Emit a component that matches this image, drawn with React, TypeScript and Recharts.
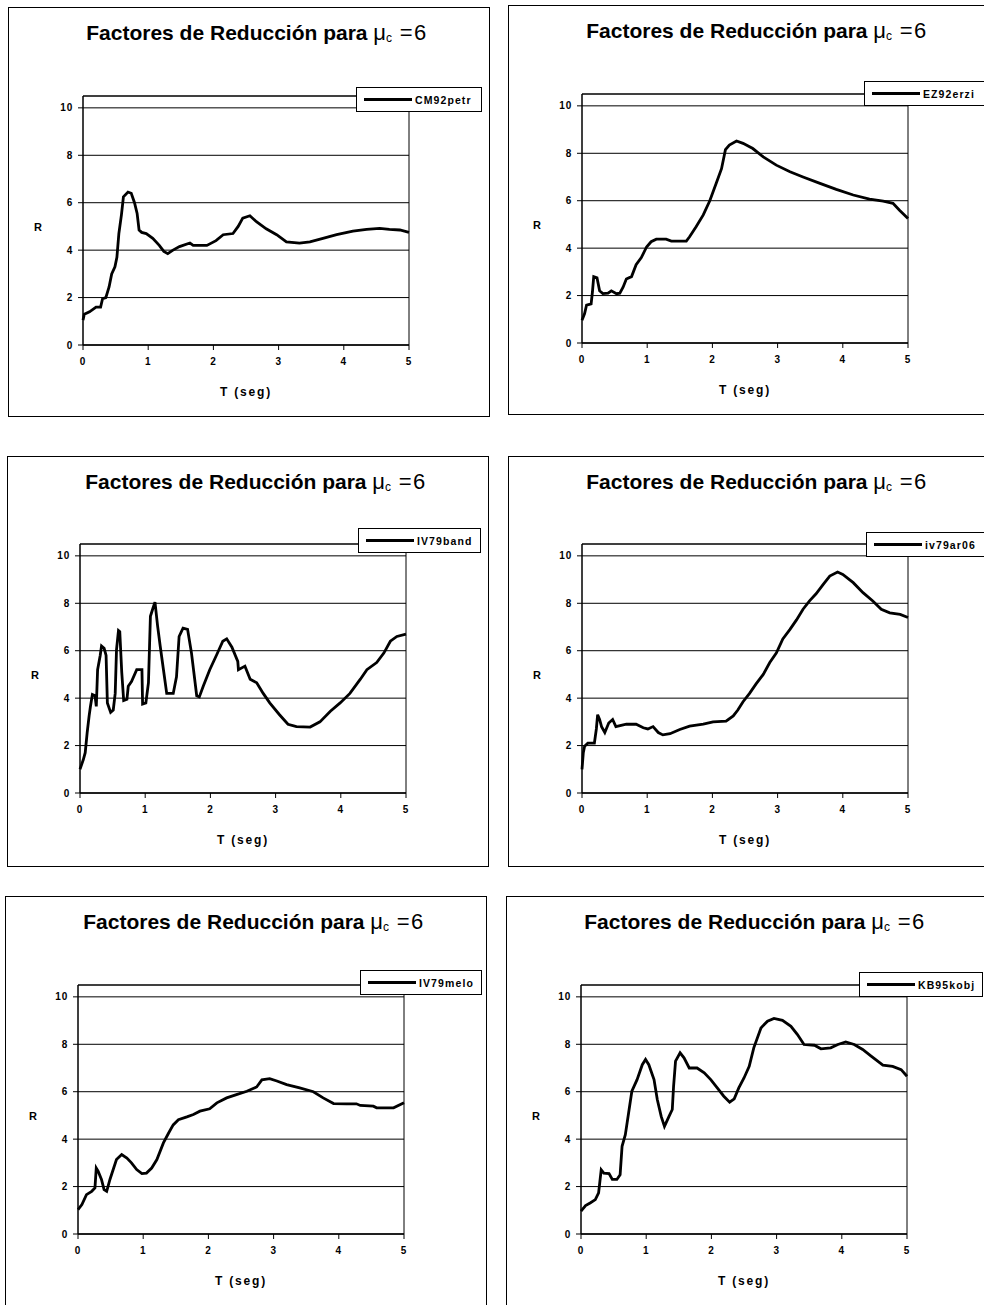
import {
  LineChart,
  Line,
  XAxis,
  YAxis,
  CartesianGrid,
  ReferenceArea,
  Legend,
  Label,
} from "recharts";

const xTicks = [0, 1, 2, 3, 4, 5];
const yTicks = [0, 2, 4, 6, 8, 10];

// CM92petr
const petrT = [0, 0.02, 0.1, 0.2, 0.27, 0.3, 0.35, 0.4, 0.44, 0.49, 0.52, 0.55, 0.59, 0.62, 0.69, 0.74, 0.79, 0.83, 0.86, 0.9, 0.97, 1.07, 1.17, 1.24, 1.3, 1.38, 1.48, 1.64, 1.69, 1.9, 2.04, 2.15, 2.3, 2.38, 2.45, 2.56, 2.66, 2.81, 2.97, 3.12, 3.32, 3.48, 3.68, 3.89, 4.14, 4.35, 4.55, 4.7, 4.86, 5.0];
const petrR = [1.05, 1.3, 1.4, 1.6, 1.6, 1.95, 2.0, 2.45, 3.0, 3.3, 3.7, 4.7, 5.5, 6.25, 6.45, 6.4, 6.0, 5.55, 4.85, 4.75, 4.7, 4.5, 4.2, 3.95, 3.85, 4.0, 4.15, 4.3, 4.2, 4.2, 4.4, 4.65, 4.7, 5.0, 5.35, 5.45, 5.2, 4.9, 4.65, 4.35, 4.3, 4.35, 4.5, 4.65, 4.8, 4.88, 4.92, 4.88, 4.85, 4.75];

// EZ92erzi
const erziT = [0, 0.04, 0.07, 0.14, 0.16, 0.18, 0.23, 0.27, 0.32, 0.4, 0.45, 0.53, 0.58, 0.63, 0.68, 0.76, 0.83, 0.91, 0.99, 1.06, 1.14, 1.29, 1.37, 1.6, 1.65, 1.75, 1.86, 1.96, 2.06, 2.14, 2.2, 2.26, 2.37, 2.47, 2.62, 2.78, 2.98, 3.19, 3.39, 3.65, 3.9, 4.16, 4.41, 4.62, 4.77, 4.87, 5.0];
const erziR = [0.96, 1.24, 1.6, 1.65, 2.15, 2.8, 2.75, 2.2, 2.08, 2.1, 2.2, 2.08, 2.1, 2.35, 2.7, 2.8, 3.3, 3.6, 4.05, 4.27, 4.38, 4.38, 4.3, 4.3, 4.48, 4.9, 5.4, 6.0, 6.75, 7.35, 8.15, 8.35, 8.52, 8.42, 8.2, 7.85, 7.5, 7.22, 7.0, 6.73, 6.48, 6.24, 6.07, 5.98, 5.89, 5.6, 5.25];

// IV79band
const bandT = [0, 0.05, 0.08, 0.11, 0.14, 0.16, 0.19, 0.23, 0.25, 0.27, 0.31, 0.33, 0.37, 0.4, 0.42, 0.47, 0.51, 0.54, 0.56, 0.59, 0.61, 0.64, 0.67, 0.72, 0.74, 0.79, 0.87, 0.95, 0.96, 1.01, 1.05, 1.08, 1.12, 1.15, 1.19, 1.23, 1.28, 1.33, 1.43, 1.48, 1.52, 1.58, 1.65, 1.71, 1.79, 1.83, 1.89, 1.99, 2.1, 2.19, 2.25, 2.33, 2.42, 2.43, 2.53, 2.61, 2.71, 2.81, 2.91, 3.06, 3.19, 3.32, 3.53, 3.68, 3.84, 3.99, 4.14, 4.3, 4.4, 4.55, 4.66, 4.76, 4.86, 5.0];
const bandR = [1.0, 1.4, 1.7, 2.55, 3.25, 3.65, 4.15, 4.1, 3.65, 5.2, 5.8, 6.2, 6.1, 5.8, 3.8, 3.4, 3.5, 4.2, 6.05, 6.85, 6.8, 5.1, 3.9, 3.95, 4.5, 4.7, 5.2, 5.2, 3.75, 3.8, 4.65, 7.45, 7.8, 8.05, 7.05, 6.2, 5.2, 4.2, 4.2, 4.9, 6.6, 6.95, 6.9, 5.9, 4.1, 4.05, 4.5, 5.2, 5.85, 6.4, 6.5, 6.15, 5.55, 5.2, 5.35, 4.8, 4.65, 4.2, 3.8, 3.3, 2.9, 2.8, 2.78, 3.0, 3.45, 3.8, 4.2, 4.8, 5.2, 5.5, 5.9, 6.4, 6.6, 6.7];

// iv79ar06
const ar06T = [0, 0.02, 0.04, 0.09, 0.19, 0.22, 0.24, 0.27, 0.3, 0.35, 0.41, 0.47, 0.52, 0.6, 0.68, 0.83, 0.94, 1.01, 1.09, 1.17, 1.24, 1.35, 1.5, 1.65, 1.86, 2.01, 2.21, 2.32, 2.39, 2.47, 2.57, 2.67, 2.78, 2.88, 2.98, 3.08, 3.19, 3.29, 3.39, 3.49, 3.59, 3.7, 3.8, 3.92, 4.0, 4.16, 4.31, 4.46, 4.59, 4.72, 4.88, 5.0];
const ar06R = [1.0, 1.7, 1.97, 2.1, 2.1, 2.7, 3.3, 3.1, 2.8, 2.55, 2.95, 3.1, 2.8, 2.85, 2.9, 2.9, 2.75, 2.7, 2.8, 2.55, 2.45, 2.5, 2.68, 2.82, 2.9, 3.0, 3.03, 3.25, 3.5, 3.85, 4.2, 4.6, 5.0, 5.5, 5.9, 6.5, 6.9, 7.3, 7.75, 8.1, 8.4, 8.8, 9.15, 9.32, 9.22, 8.87, 8.45, 8.1, 7.75, 7.6, 7.53, 7.4];

// IV79melo
const meloT = [0, 0.06, 0.13, 0.21, 0.26, 0.28, 0.31, 0.36, 0.4, 0.44, 0.49, 0.54, 0.59, 0.67, 0.75, 0.82, 0.9, 0.98, 1.05, 1.13, 1.21, 1.31, 1.39, 1.46, 1.54, 1.67, 1.77, 1.87, 2.02, 2.13, 2.28, 2.43, 2.59, 2.74, 2.82, 2.94, 3.05, 3.2, 3.4, 3.61, 3.76, 3.92, 4.12, 4.27, 4.33, 4.53, 4.58, 4.84, 5.0];
const meloR = [1.03, 1.24, 1.66, 1.8, 1.94, 2.78, 2.64, 2.3, 1.87, 1.8, 2.3, 2.72, 3.14, 3.35, 3.2, 3.0, 2.72, 2.55, 2.57, 2.78, 3.14, 3.84, 4.26, 4.6, 4.82, 4.94, 5.04, 5.18, 5.28, 5.53, 5.74, 5.88, 6.02, 6.2, 6.5, 6.55, 6.45, 6.3, 6.16, 6.0, 5.74, 5.5, 5.49, 5.49, 5.42, 5.39, 5.32, 5.32, 5.53];

// KB95kobj
const kobjT = [0, 0.07, 0.14, 0.22, 0.27, 0.31, 0.35, 0.43, 0.48, 0.55, 0.6, 0.63, 0.68, 0.73, 0.78, 0.86, 0.94, 0.99, 1.04, 1.12, 1.17, 1.23, 1.28, 1.35, 1.4, 1.42, 1.45, 1.52, 1.58, 1.66, 1.78, 1.89, 1.99, 2.09, 2.19, 2.28, 2.35, 2.42, 2.5, 2.58, 2.65, 2.76, 2.86, 2.96, 3.09, 3.22, 3.32, 3.42, 3.58, 3.68, 3.83, 3.94, 4.06, 4.19, 4.32, 4.45, 4.63, 4.78, 4.91, 5.0];
const kobjR = [0.96, 1.2, 1.31, 1.45, 1.73, 2.71, 2.57, 2.55, 2.3, 2.3, 2.5, 3.7, 4.19, 5.1, 6.02, 6.51, 7.14, 7.36, 7.14, 6.51, 5.67, 4.96, 4.54, 4.96, 5.25, 6.23, 7.29, 7.64, 7.43, 7.0, 7.0, 6.8, 6.51, 6.16, 5.81, 5.56, 5.7, 6.16, 6.58, 7.07, 7.85, 8.69, 8.97, 9.09, 9.01, 8.76, 8.41, 7.99, 7.96, 7.81, 7.85, 7.99, 8.1, 7.99, 7.78, 7.5, 7.12, 7.07, 6.93, 6.65];

const FONT = '"Liberation Sans", Arial, sans-serif';
const PLOT_W = 326;
const PLOT_H = 249;
const Y_W = 40;
const X_H = 40;
const PANEL_W = 482;

// panel box, axis origin (x0, y0) and legend box, in page px
const panels = [
  { name: "CM92petr", t: petrT, r: petrR, left: 8, top: 7, h: 410, x0: 83, y0: 345, lx: 356, ly: 87, lw: 126 },
  { name: "EZ92erzi", t: erziT, r: erziR, left: 508, top: 5, h: 410, x0: 582, y0: 343, lx: 864, ly: 81, lw: 126 },
  { name: "IV79band", t: bandT, r: bandR, left: 7, top: 456, h: 411, x0: 80, y0: 793, lx: 358, ly: 528, lw: 123 },
  { name: "iv79ar06", t: ar06T, r: ar06R, left: 508, top: 456, h: 411, x0: 582, y0: 793, lx: 866, ly: 532, lw: 126 },
  { name: "IV79melo", t: meloT, r: meloR, left: 5, top: 896, h: 420, x0: 78, y0: 1234, lx: 360, ly: 970, lw: 122 },
  { name: "KB95kobj", t: kobjT, r: kobjR, left: 506, top: 896, h: 420, x0: 581, y0: 1234, lx: 859, ly: 972, lw: 124 },
];

function Chart({ p }: { p: (typeof panels)[number] }) {
  const data = p.t.map((t, i) => ({ t, r: p.r[i] }));
  const ml = p.x0 - p.left - Y_W;
  const mt = p.y0 - PLOT_H - p.top;
  const mr = PANEL_W - (p.x0 - p.left) - PLOT_W;
  const mb = p.h - (p.y0 - p.top) - X_H;
  const tickStyle = { fontSize: 10, fontWeight: "bold", fill: "#000", fontFamily: FONT, letterSpacing: 0.8 };

  return (
    <div style={{ position: "absolute", left: p.left, top: p.top, width: PANEL_W, height: p.h, background: "#fff" }}>
      <div style={{ position: "absolute", inset: 0, border: "1px solid #000" }} />
      <div
        style={{
          position: "absolute",
          top: 14,
          left: 0,
          width: 498,
          textAlign: "center",
          lineHeight: "24px",
          fontFamily: FONT,
          fontSize: 21,
          fontWeight: "bold",
          whiteSpace: "nowrap",
          color: "#000",
        }}
      >
        Factores de Reducción para{" "}
        <span style={{ fontWeight: "normal", fontSize: 22 }}>μ</span>
        <span style={{ fontWeight: "normal", fontSize: 12, verticalAlign: -2 }}>c</span>
        <span style={{ fontWeight: "normal", fontSize: 22, letterSpacing: 1.5 }}> =6</span>
      </div>
      <LineChart
        width={PANEL_W}
        height={p.h}
        data={data}
        margin={{ top: mt, left: ml, right: mr, bottom: mb }}
        style={{ position: "absolute", left: 0, top: 0 }}
      >
        <CartesianGrid vertical={false} stroke="#000" strokeWidth={1} />
        <ReferenceArea x1={0} x2={5} y1={0} y2={10.5} fill="none" stroke="#000" strokeWidth={1} fillOpacity={0} />
        <XAxis
          dataKey="t"
          type="number"
          domain={[0, 5]}
          ticks={xTicks}
          height={X_H}
          tickSize={5}
          tickMargin={8}
          stroke="#000"
          tick={tickStyle}
          tickLine={{ stroke: "#000" }}
          axisLine={{ stroke: "#000" }}
        >
          <Label
            value="T (seg)"
            position="bottom"
            offset={2}
            style={{ fontSize: 12, fontWeight: "bold", fill: "#000", fontFamily: FONT, letterSpacing: 1.8 }}
          />
        </XAxis>
        <YAxis
          type="number"
          domain={[0, 10.5]}
          ticks={yTicks}
          width={Y_W}
          tickSize={5}
          tickMargin={5}
          stroke="#000"
          tick={tickStyle}
          tickLine={{ stroke: "#000" }}
          axisLine={{ stroke: "#000" }}
        >
          <Label
            value="R"
            position="left"
            offset={1}
            dy={7}
            style={{ fontSize: 11, fontWeight: "bold", fill: "#000", fontFamily: FONT }}
          />
        </YAxis>
        <Legend
          layout="horizontal"
          verticalAlign="middle"
          align="center"
          wrapperStyle={{ left: p.lx - p.left, top: p.ly - p.top, width: p.lw, height: 25 }}
          content={() => (
            <div
              style={{
                width: p.lw,
                height: 25,
                boxSizing: "border-box",
                border: "1px solid #000",
                background: "#fff",
                display: "flex",
                alignItems: "center",
                paddingLeft: 7,
              }}
            >
              <span style={{ display: "inline-block", width: 48, height: 3, background: "#000" }} />
              <span
                style={{
                  marginLeft: 3,
                  fontFamily: FONT,
                  fontSize: 10.5,
                  fontWeight: "bold",
                  letterSpacing: 1.1,
                  color: "#000",
                  whiteSpace: "nowrap",
                }}
              >
                {p.name}
              </span>
            </div>
          )}
        />
        <Line
          type="linear"
          dataKey="r"
          name={p.name}
          stroke="#000"
          strokeWidth={2.8}
          dot={false}
          activeDot={false}
          isAnimationActive={false}
        />
      </LineChart>
    </div>
  );
}

export default function App() {
  return (
    <div
      style={{
        position: "absolute",
        left: 0,
        top: 0,
        width: 984,
        height: 1305,
        overflow: "hidden",
        background: "#fff",
      }}
    >
      {panels.map((p) => (
        <Chart key={p.name} p={p} />
      ))}
    </div>
  );
}
